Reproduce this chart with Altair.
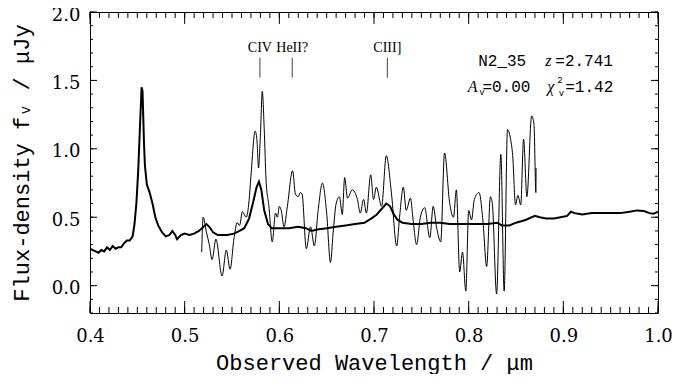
import altair as alt
import pandas as pd
import numpy as np

# ---- data ----
fit_wave = [0.400, 0.403, 0.406, 0.409, 0.412, 0.415, 0.418, 0.421, 0.424, 0.427,
            0.430, 0.433, 0.436, 0.439, 0.442, 0.445, 0.447, 0.449, 0.451, 0.453,
            0.4545, 0.4555, 0.457, 0.458, 0.460, 0.463, 0.466, 0.469, 0.472, 0.476,
            0.480, 0.484, 0.487, 0.490, 0.492, 0.496, 0.500, 0.505, 0.510, 0.515,
            0.520, 0.523, 0.526, 0.530, 0.535, 0.545, 0.552, 0.558, 0.563, 0.568,
            0.572, 0.576, 0.5785, 0.581, 0.584, 0.588, 0.592, 0.600, 0.610, 0.620,
            0.628, 0.634, 0.640, 0.650, 0.660, 0.670, 0.680, 0.690, 0.697, 0.703,
            0.708, 0.713, 0.717, 0.721, 0.725, 0.730, 0.740, 0.750, 0.760, 0.770,
            0.780, 0.790, 0.800, 0.810, 0.820, 0.830, 0.835, 0.843, 0.850, 0.860,
            0.870, 0.875, 0.882, 0.890, 0.897, 0.904, 0.908, 0.912, 0.920, 0.930,
            0.940, 0.950, 0.960, 0.970, 0.978, 0.985, 0.991, 0.995, 1.000]
fit_flux = [0.27, 0.26, 0.25, 0.24, 0.26, 0.25, 0.28, 0.26, 0.29, 0.27,
            0.28, 0.28, 0.31, 0.33, 0.33, 0.36, 0.45, 0.60, 0.85, 1.20,
            1.45, 1.42, 1.05, 0.88, 0.74, 0.68, 0.60, 0.50, 0.44, 0.39,
            0.36, 0.37, 0.40, 0.37, 0.34, 0.37, 0.38, 0.37, 0.38, 0.40,
            0.43, 0.45, 0.43, 0.39, 0.37, 0.37, 0.38, 0.40, 0.42, 0.49,
            0.60, 0.72, 0.76, 0.70, 0.55, 0.45, 0.42, 0.42, 0.42, 0.43,
            0.42, 0.40, 0.41, 0.42, 0.43, 0.44, 0.45, 0.46, 0.49, 0.52,
            0.56, 0.60, 0.58, 0.52, 0.48, 0.46, 0.45, 0.45, 0.46, 0.46,
            0.45, 0.45, 0.45, 0.45, 0.45, 0.46, 0.44, 0.44, 0.46, 0.48,
            0.51, 0.50, 0.49, 0.49, 0.50, 0.51, 0.54, 0.53, 0.52, 0.53,
            0.53, 0.53, 0.53, 0.54, 0.55, 0.545, 0.53, 0.525, 0.54]

obs_wave = [0.518, 0.5195, 0.523, 0.526, 0.529, 0.533, 0.5395, 0.544, 0.548, 0.552,
            0.5555, 0.558, 0.561, 0.565, 0.568, 0.570, 0.5745, 0.5765, 0.578, 0.580,
            0.582, 0.584, 0.586, 0.589, 0.5925, 0.596, 0.598, 0.600, 0.602, 0.605,
            0.6085, 0.614, 0.617, 0.620, 0.622, 0.624, 0.6285, 0.633, 0.637, 0.641,
            0.6455, 0.650, 0.654, 0.657, 0.660, 0.6635, 0.6665, 0.669, 0.672, 0.677,
            0.6825, 0.6855, 0.689, 0.692, 0.6965, 0.6995, 0.7025, 0.708, 0.713, 0.7185,
            0.724, 0.727, 0.731, 0.734, 0.7385, 0.741, 0.745, 0.749, 0.7535, 0.759,
            0.7625, 0.766, 0.7705, 0.7745, 0.780, 0.784, 0.787, 0.7905, 0.7935, 0.797,
            0.800, 0.803, 0.806, 0.811, 0.815, 0.819, 0.823, 0.825, 0.8295, 0.834,
            0.8375, 0.841, 0.844, 0.8465, 0.8495, 0.852, 0.855, 0.858, 0.8615, 0.8665,
            0.869, 0.871, 0.8712]
obs_flux = [0.245, 0.50, 0.39, 0.30, 0.19, 0.34, 0.07, 0.26, 0.12, 0.34,
            0.46, 0.44, 0.54, 0.50, 0.62, 0.80, 1.13, 1.05, 0.86, 1.10,
            1.42, 1.15, 0.77, 0.58, 0.32, 0.53, 0.50, 0.58, 0.55, 0.43,
            0.58, 0.84, 0.67, 0.65, 0.68, 0.67, 0.27, 0.43, 0.29, 0.55,
            0.75, 0.53, 0.17, 0.40, 0.60, 0.65, 0.52, 0.79, 0.64, 0.70,
            0.63, 0.53, 0.63, 0.53, 0.81, 0.63, 0.72, 0.58, 0.95, 0.67,
            0.29, 0.50, 0.72, 0.55, 0.64, 0.50, 0.30, 0.50, 0.57, 0.35,
            0.58, 0.43, 0.32, 0.97, 0.60, 0.50, 0.70, 0.10, 0.245, -0.04,
            0.55, 0.48, 0.63, 0.68, 0.48, 0.14, 0.65, 0.60, -0.06, 0.96,
            -0.04, 1.14, 1.08, 0.95, 0.59, 0.66, 0.59, 1.07, 0.65, 1.24,
            1.18, 0.68, 0.86]

line_names = ["CIV", "HeII?", "CIII]"]
line_wave = [0.5795, 0.6136, 0.7141]

x_major = [0.4, 0.5, 0.6, 0.7, 0.8, 0.9, 1.0]
y_major = [0.0, 0.5, 1.0, 1.5, 2.0]
x_minor = [round(v, 2) for v in np.arange(0.40, 1.0001, 0.01)]
y_minor = [round(v, 1) for v in np.arange(-0.2, 2.0001, 0.1)]

# annotation pieces (text, wavelength, flux, size, italic)
ann_text = ["N2_35", "z", "=2.741", "A", "ᵥ", "=0.00", "χ", "2", "ᵥ", "=1.42"]
ann_x = [0.810, 0.881, 0.8915, 0.799, 0.8095, 0.8145, 0.883, 0.8935, 0.8935, 0.902]
ann_y = [1.645, 1.645, 1.645, 1.45, 1.43, 1.45, 1.45, 1.50, 1.42, 1.45]
ann_size = [16, 16, 16, 16, 14, 16, 16, 9, 14, 16]
ann_italic = [False, True, False, True, False, False, True, False, False, False]

W, H = 568, 301
xs = alt.Scale(domain=[0.4, 1.0], nice=False, zero=False)
ys = alt.Scale(domain=[-0.2, 2.0], nice=False, zero=False)

fit_df = pd.DataFrame({"w": fit_wave, "f": fit_flux})
obs_df = pd.DataFrame({"w": obs_wave, "f": obs_flux, "i": range(len(obs_wave))})
lines_df = pd.DataFrame({"name": line_names, "w": line_wave, "y1": 1.52, "y2": 1.665, "ty": 1.74})
ann_df = pd.DataFrame({"t": ann_text, "w": ann_x, "f": ann_y, "s": ann_size, "it": ann_italic})

FONT = "Liberation Mono"
TFONT = "DejaVu Serif"

xaxis = alt.Axis(values=x_major, format=".1f", ticks=False, domain=False, grid=False,
                 labelFont=TFONT, labelFontSize=18, labelColor="black", labelPadding=14,
                 labelFlush=False,
                 title="Observed Wavelength / μm", titleFont=FONT, titleFontSize=22,
                 titleFontWeight="normal", titleColor="black", titlePadding=7)
yaxis = alt.Axis(values=y_major, format=".1f", ticks=False, domain=False, grid=False,
                 labelFont=TFONT, labelFontSize=18, labelColor="black", labelPadding=10,
                 labelFlush=False, labelOffset=3,
                 title="Flux-density fᵥ / μJy", titleFont=FONT, titleFontSize=22,
                 titleFontWeight="normal", titleColor="black", titlePadding=18)

fit = alt.Chart(fit_df).mark_line(color="black", strokeWidth=2).encode(
    x=alt.X("w:Q", scale=xs, axis=xaxis),
    y=alt.Y("f:Q", scale=ys, axis=yaxis),
)
obs = alt.Chart(obs_df).mark_line(color="black", strokeWidth=1, interpolate="monotone").encode(
    x=alt.X("w:Q", scale=xs), y=alt.Y("f:Q", scale=ys), order="i:Q"
)

def xticks(vals, length):
    d = pd.DataFrame({"w": vals})
    bot = alt.Chart(d).mark_rule(color="black", strokeWidth=1).encode(
        x=alt.X("w:Q", scale=xs), y=alt.value(H), y2=alt.value(H - length))
    top = alt.Chart(d).mark_rule(color="black", strokeWidth=1).encode(
        x=alt.X("w:Q", scale=xs), y=alt.value(0), y2=alt.value(length))
    return [bot, top]

def yticks(vals, length):
    d = pd.DataFrame({"f": vals})
    left = alt.Chart(d).mark_rule(color="black", strokeWidth=1).encode(
        y=alt.Y("f:Q", scale=ys), x=alt.value(0), x2=alt.value(length))
    right = alt.Chart(d).mark_rule(color="black", strokeWidth=1).encode(
        y=alt.Y("f:Q", scale=ys), x=alt.value(W), x2=alt.value(W - length))
    return [left, right]

tick_layers = xticks(x_minor, 6) + xticks(x_major, 12) + yticks(y_minor, 3) + yticks(y_major, 7)

line_marks = alt.Chart(lines_df).mark_rule(color="#444444", strokeWidth=1).encode(
    x=alt.X("w:Q", scale=xs), y=alt.Y("y1:Q", scale=ys), y2="y2:Q")
line_text = alt.Chart(lines_df).mark_text(font="Liberation Serif", fontSize=14, color="black").encode(
    x=alt.X("w:Q", scale=xs), y=alt.Y("ty:Q", scale=ys), text="name:N")

ann_norm = alt.Chart(ann_df).transform_filter("!datum.it").mark_text(
    font=FONT, align="left", baseline="middle", color="black").encode(
    x=alt.X("w:Q", scale=xs), y=alt.Y("f:Q", scale=ys), text="t:N",
    size=alt.Size("s:Q", scale=None, legend=None))
ann_it = alt.Chart(ann_df).transform_filter("datum.it").mark_text(
    font="Liberation Serif", fontStyle="italic", align="left", baseline="middle", color="black").encode(
    x=alt.X("w:Q", scale=xs), y=alt.Y("f:Q", scale=ys), text="t:N",
    size=alt.Size("s:Q", scale=None, legend=None))

chart = alt.layer(fit, obs, *tick_layers, line_marks, line_text, ann_norm, ann_it).properties(
    width=W, height=H,
    autosize=alt.AutoSizeParams(type="none"),
    padding={"left": 82, "top": 4, "right": 30, "bottom": 61},
    background="white",
).configure_view(stroke="black", strokeWidth=1)

chart.save("out.html", embed_options={"renderer": "svg", "actions": False})
